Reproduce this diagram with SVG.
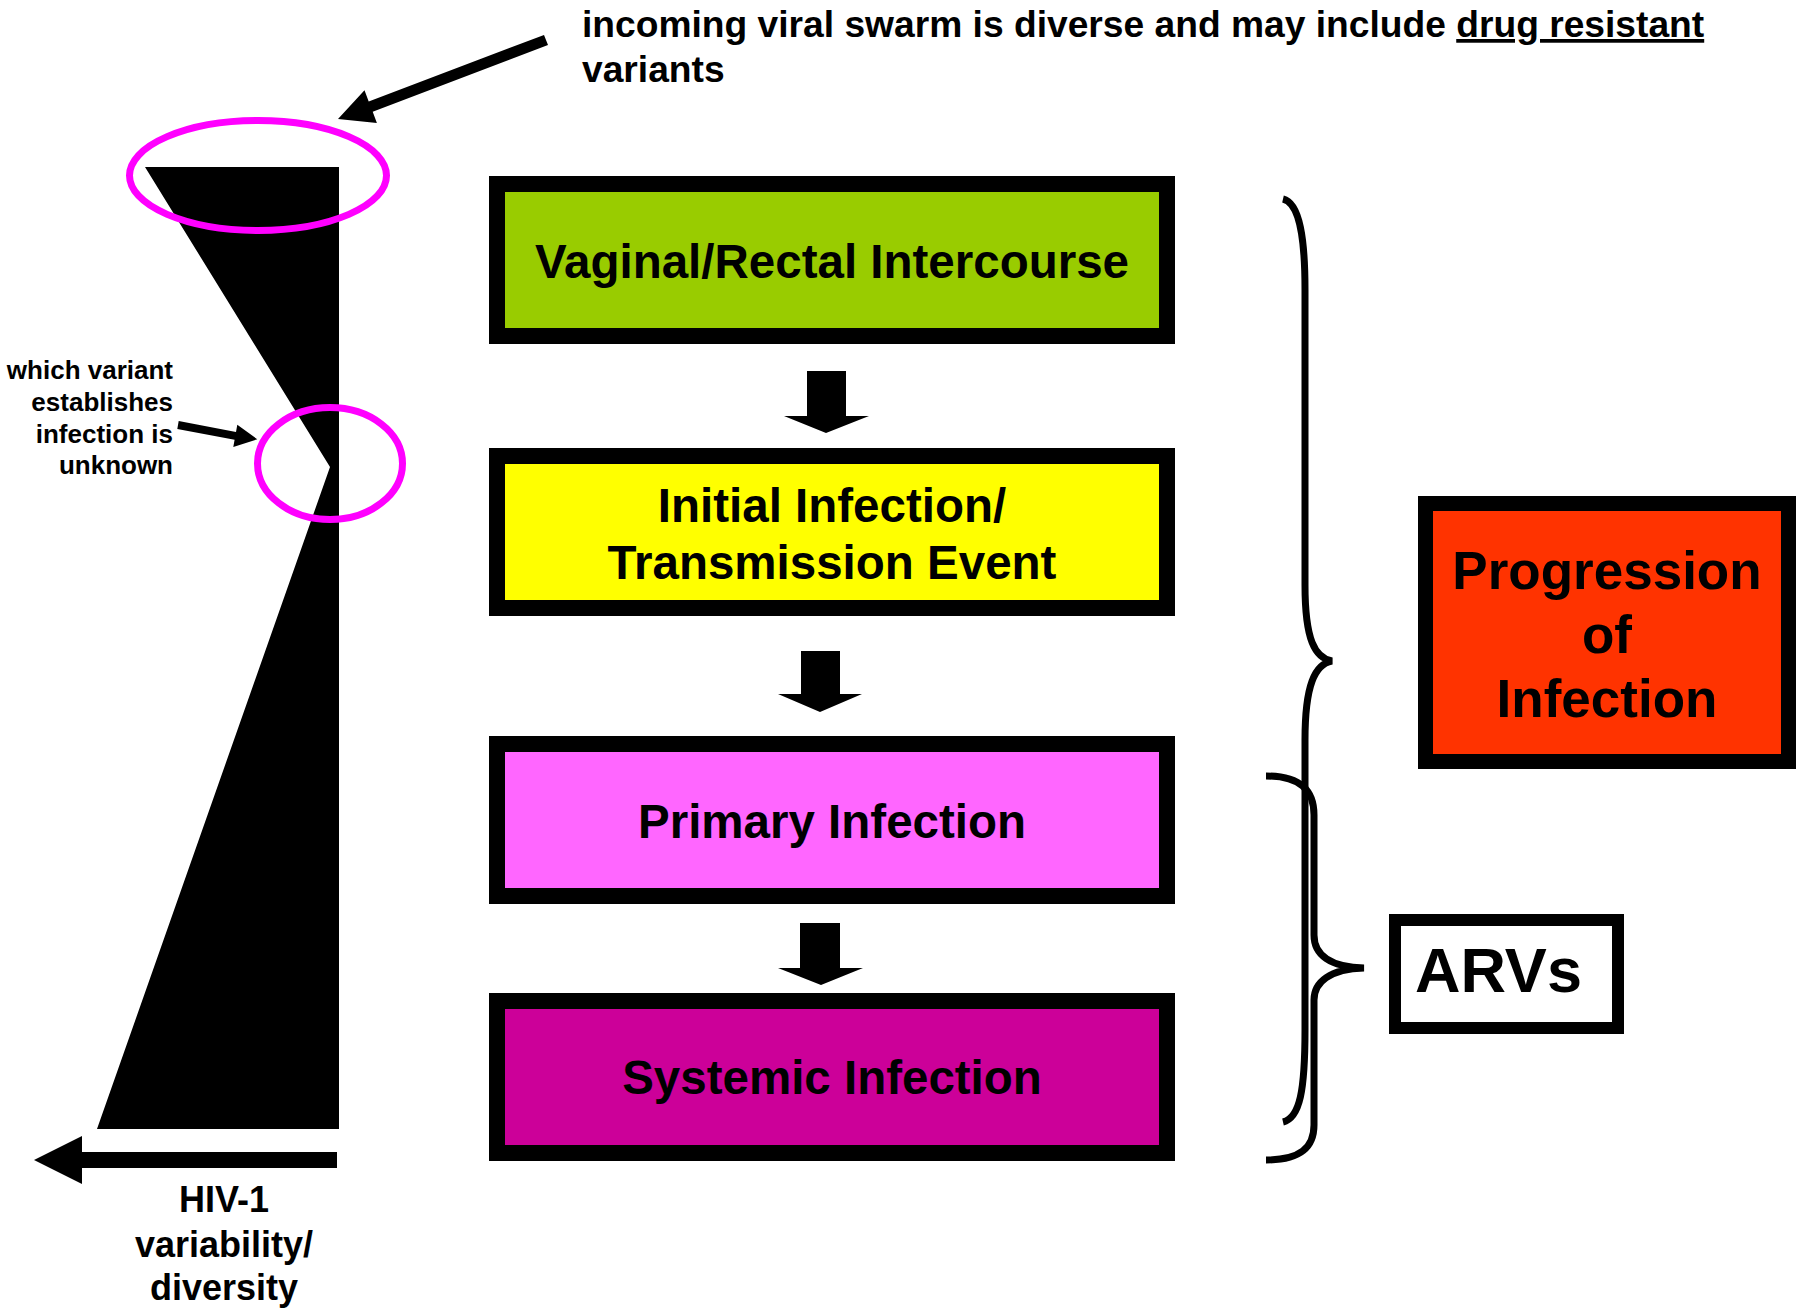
<svg xmlns="http://www.w3.org/2000/svg" width="1797" height="1310" viewBox="0 0 1797 1310">
<style>
text{font-family:"Liberation Sans",Arial,sans-serif;font-weight:bold;fill:#000}
.box{stroke:#000;stroke-width:16}
.c{text-anchor:middle}
.ring{fill:none;stroke:#FF00FF;stroke-width:7}
.brace{fill:none;stroke:#000;stroke-width:7}
.blk{fill:#000}
</style>
<rect width="1797" height="1310" fill="#fff"/>
<g id="funnel">
<polygon class="blk" points="145,167 339,167 339,1129 97,1129 330,467"/>
<ellipse class="ring" cx="258" cy="175.5" rx="128.5" ry="55"/>
<ellipse class="ring" cx="330" cy="463.5" rx="72.5" ry="56"/>
</g>
<g id="annotation-top">
<text x="582" y="37" font-size="37.2">incoming viral swarm is diverse and may include <tspan text-decoration="underline">drug resistant</tspan></text>
<text x="582" y="82" font-size="37.2">variants</text>
</g>
<g id="annotation-variant">
<text font-size="26" text-anchor="end"><tspan x="173" y="379">which variant</tspan><tspan x="173" y="411">establishes</tspan><tspan x="173" y="443">infection is</tspan><tspan x="173" y="474">unknown</tspan></text>
</g>
<g id="axis-label">
<text class="c" font-size="36"><tspan x="224" y="1212">HIV-1</tspan><tspan x="224" y="1257">variability/</tspan><tspan x="224" y="1300">diversity</tspan></text>
</g>
<g id="node-intercourse">
<rect class="box" x="497" y="184" width="670" height="152" fill="#99CC00"/>
<text class="c" x="832" y="278" font-size="47.5">Vaginal/Rectal Intercourse</text>
</g>
<g id="node-initial">
<rect class="box" x="497" y="456" width="670" height="152" fill="#FFFF00"/>
<text class="c" font-size="47.5"><tspan x="832" y="522">Initial Infection/</tspan><tspan x="832" y="579">Transmission Event</tspan></text>
</g>
<g id="node-primary">
<rect class="box" x="497" y="744" width="670" height="152" fill="#FF66FF"/>
<text class="c" x="832" y="838" font-size="47.5">Primary Infection</text>
</g>
<g id="node-systemic">
<rect class="box" x="497" y="1001" width="670" height="152" fill="#CC0099"/>
<text class="c" x="832" y="1094" font-size="47.5">Systemic Infection</text>
</g>
<g id="node-progression">
<rect x="1425.5" y="503.5" width="363" height="258" fill="#FF3300" stroke="#000" stroke-width="15"/>
<text class="c" font-size="53"><tspan x="1607" y="589">Progression</tspan><tspan x="1607" y="653">of</tspan><tspan x="1607" y="717">Infection</tspan></text>
</g>
<g id="node-arvs">
<rect x="1395" y="920" width="223" height="108" fill="#fff" stroke="#000" stroke-width="12"/>
<text x="1415" y="992" font-size="63">ARVs</text>
</g>
<g id="connectors">
<polygon class="blk" points="807,371 846,371 846,416 869,416 826,433 784,416 807,416"/>
<polygon class="blk" points="801,651 840,651 840,694 862,694 820,712 778,694 801,694"/>
<polygon class="blk" points="800,923 840,923 840,968 863,968 821,985 778,968 800,968"/>
<polygon class="blk" points="544.0,34.9 548.0,45.1 372.7,111.7 376.9,123.0 338,119 364.5,90.2 368.7,101.5"/>
<polygon class="blk" points="178.7,421.1 236.0,431.9 237.3,424.7 257.3,439.3 233.3,446.9 234.6,439.7 177.3,428.9"/>
<polygon class="blk" points="337,1152 82,1152 82,1136 34,1160 82,1184 82,1168 337,1168"/>
<path class="brace" d="M1283,199 C1300,203 1305,240 1305,290 L1305,585 C1305,640 1315,658 1332,661 C1315,664 1305,685 1305,740 L1305,1030 C1305,1090 1300,1118 1283,1122"/>
<path class="brace" d="M1266,776 C1300,776 1314,790 1314,815 L1314,935 C1314,955 1330,967 1364,968 C1330,969 1314,982 1314,1000 L1314,1125 C1314,1148 1300,1160 1266,1160"/>
</g>
</svg>
